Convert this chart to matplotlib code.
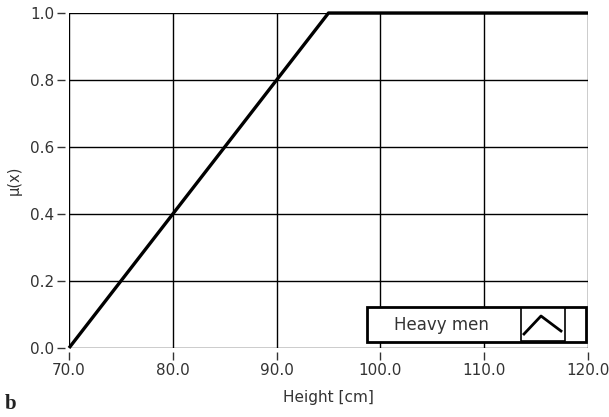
import matplotlib
matplotlib.use("Agg")
import matplotlib.pyplot as plt
from matplotlib.patches import Rectangle
from matplotlib.lines import Line2D

# Membership function for "Heavy men"
height_cm = [70.0, 95.0, 120.0]
membership = [0.0, 1.0, 1.0]
x_ticks = [70.0, 80.0, 90.0, 100.0, 110.0, 120.0]
y_ticks = [0.0, 0.2, 0.4, 0.6, 0.8, 1.0]
series_label = "Heavy men"

plt.rcParams['font.family'] = ['DejaVu Sans']

fig = plt.figure(figsize=(6.09, 4.17), dpi=100)
W, H = 609, 417
ax = fig.add_axes([69 / W, 1 - 348 / H, (588 - 69) / W, (348 - 13) / H])

ax.plot(height_cm, membership, color='black', lw=2.4, solid_capstyle='butt', zorder=5, clip_on=False)

ax.set_xlim(70, 120)
ax.set_ylim(0, 1)
ax.set_xticks(x_ticks)
ax.set_yticks(y_ticks)
ax.set_xticklabels([f"{v:.1f}" for v in x_ticks])
ax.set_yticklabels([f"{v:.1f}" for v in y_ticks])

ax.grid(True, color='black', lw=1.0)
for gl in ax.get_xgridlines() + ax.get_ygridlines():
    gl.set_clip_on(False)

for s in ax.spines.values():
    s.set_visible(False)
ax.spines['bottom'].set_position(('outward', 3))
ax.spines['left'].set_position(('outward', 3))
ax.tick_params(axis='both', direction='out', length=5.5, width=1.0, color='#333333',
               labelsize=11, labelcolor='#333333', pad=2)

ax.set_xlabel("Height [cm]", fontsize=11, color='#333333', labelpad=9)
ax.set_ylabel("μ(x)", fontsize=10.5, color='#333333', labelpad=6)

# Legend box with icon
def px(x, y):
    return x / W, 1 - y / H

lx0, ly0 = px(367, 342)
lx1, ly1 = px(586, 307)
fig.add_artist(Rectangle((lx0, ly0), lx1 - lx0, ly1 - ly0, transform=fig.transFigure,
                         facecolor='white', edgecolor='black', lw=2.0, zorder=10))
ix0, iy0 = px(521, 341)
ix1, iy1 = px(565, 308)
fig.add_artist(Rectangle((ix0, iy0), ix1 - ix0, iy1 - iy0, transform=fig.transFigure,
                         facecolor='white', edgecolor='black', lw=1.2, zorder=11))
cx, cy = zip(px(524, 334), px(541, 316), px(561, 331))
fig.add_artist(Line2D(cx, cy, transform=fig.transFigure, color='black', lw=2.0, zorder=12))
tx, ty = px(441, 325)
fig.text(tx, ty, series_label, ha='center', va='center', fontsize=12, color='#333333', zorder=12)

bx, by = px(11, 404)
fig.text(bx, by, "b", ha='center', va='center', fontsize=15, fontweight='bold',
         family=['Liberation Serif'], color='#222222')

fig.savefig("out.png", dpi=100)
